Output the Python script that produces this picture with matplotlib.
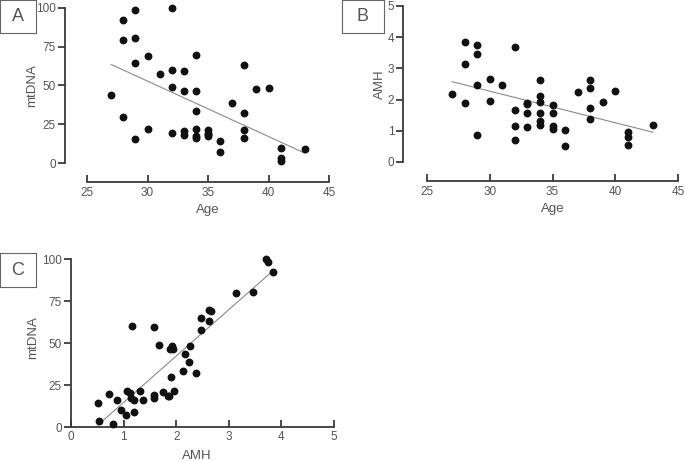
import numpy as np
import matplotlib
matplotlib.use("Agg")
import matplotlib.pyplot as plt

plt.rcParams['font.family'] = ['Liberation Sans', 'DejaVu Sans']

# one row per woman: age, AMH, mtDNA
age = [27, 28, 28, 28, 29, 29, 29, 29, 30, 30, 31, 32, 32, 32, 32,
       33, 33, 33, 33, 34, 34, 34, 34, 34, 34, 35, 35, 35, 35, 36, 36,
       37, 38, 38, 38, 38, 39, 40, 41, 41, 41, 43]
amh = [2.17, 3.84, 3.13, 1.90, 3.75, 3.46, 2.47, 0.87, 2.67, 1.95, 2.47,
       3.70, 1.67, 1.16, 0.72, 1.58, 1.88, 1.13, 1.87, 2.62, 2.12, 1.93,
       1.32, 1.19, 1.58, 1.84, 1.57, 1.15, 1.06, 1.04, 0.51, 2.24, 2.62,
       2.38, 1.74, 1.37, 1.92, 2.27, 0.96, 0.54, 0.80, 1.20]
mtdna = [43.7, 92.0, 79.5, 29.8, 98.4, 80.5, 64.6, 15.8, 69.0, 21.7, 57.6,
         99.8, 48.8, 60.3, 19.5, 59.5, 46.7, 20.4, 18.3, 69.4, 33.4, 46.5,
         21.7, 16.3, 17.3, 18.5, 19.0, 17.2, 21.5, 7.3, 14.1, 38.4, 63.1,
         32.0, 21.1, 15.9, 48.0, 48.1, 9.9, 3.4, 1.5, 8.8]

age_ticks = [25, 30, 35, 40, 45]
mt_ticks = [0, 25, 50, 75, 100]
amh_ticks = [0, 1, 2, 3, 4, 5]

W, H = 685, 461
fig = plt.figure(figsize=(W / 100, H / 100), dpi=100)
spine_col = '#3a3a3a'
txt_col = '#555555'


def px_axes(x0, y0, x1, y1):
    # pixel box (top-left origin) -> figure axes
    return fig.add_axes([x0 / W, 1 - y1 / H, (x1 - x0) / W, (y1 - y0) / H])


def panel(ax, x, y, xlim, ylim, xt, yt, xlab, ylab, off_l, off_b):
    x = np.array(x)
    y = np.array(y)
    ax.scatter(x, y, s=32, color='#111111', zorder=3, clip_on=False, linewidths=0)
    k, b = np.polyfit(x, y, 1)
    xs = np.array([x.min(), x.max()])
    ax.plot(xs, k * xs + b, color='#8a8a8a', lw=0.8, zorder=2)
    ax.set_xlim(*xlim)
    ax.set_ylim(*ylim)
    ax.set_xticks(xt)
    ax.set_yticks(yt)
    for s in ['top', 'right']:
        ax.spines[s].set_visible(False)
    for s in ['left', 'bottom']:
        ax.spines[s].set_color(spine_col)
        ax.spines[s].set_linewidth(1.3)
    ax.spines['left'].set_position(('outward', off_l))
    ax.spines['bottom'].set_position(('outward', off_b))
    ax.tick_params(axis='x', direction='in', length=5, width=1.3, color=spine_col,
                   labelsize=8.5, labelcolor=txt_col, pad=3.5)
    ax.tick_params(axis='y', direction='out', length=5, width=1.3, color=spine_col,
                   labelsize=8.5, labelcolor=txt_col, pad=1.5)
    ax.set_xlabel(xlab, fontsize=9.5, color=txt_col)
    ax.set_ylabel(ylab, fontsize=9.5, color=txt_col)
    ax.patch.set_visible(False)


def tag(letter, x0, y0, x1, y1):
    t = fig.add_axes([x0 / W, 1 - y1 / H, (x1 - x0) / W, (y1 - y0) / H])
    t.set_xticks([])
    t.set_yticks([])
    for s in t.spines.values():
        s.set_color('#666666')
        s.set_linewidth(0.8)
    t.text(0.5, 0.5, letter, ha='center', va='center', fontsize=13,
           color='#555555', transform=t.transAxes)


# A: mtDNA vs age
axA = px_axes(87, 8, 329, 163)
panel(axA, age, mtdna, (25, 45), (0, 100), age_ticks, mt_ticks, 'Age', 'mtDNA', 16, 14)
axA.yaxis.set_label_coords(-0.2, 0.5)
axA.xaxis.set_label_coords(0.5, -0.265)

# B: AMH vs age
axB = px_axes(427, 6, 678, 162)
panel(axB, age, amh, (25, 45), (0, 5), age_ticks, amh_ticks, 'Age', 'AMH', 17, 14)
axB.yaxis.set_label_coords(-0.165, 0.5)
axB.xaxis.set_label_coords(0.5, -0.265)

# C: mtDNA vs AMH
axC = px_axes(71, 259, 334, 427)
panel(axC, amh, mtdna, (0, 5), (0, 100), amh_ticks, mt_ticks, 'AMH', 'mtDNA', 0, 0)
axC.tick_params(axis='x', pad=3)
axC.yaxis.set_label_coords(-0.12, 0.53)
axC.xaxis.set_label_coords(0.48, -0.135)

tag('A', 0, 0, 36, 33)
tag('B', 342, 0, 384, 33)
tag('C', 0, 253, 36, 287)

fig.savefig('out.png', dpi=100)
